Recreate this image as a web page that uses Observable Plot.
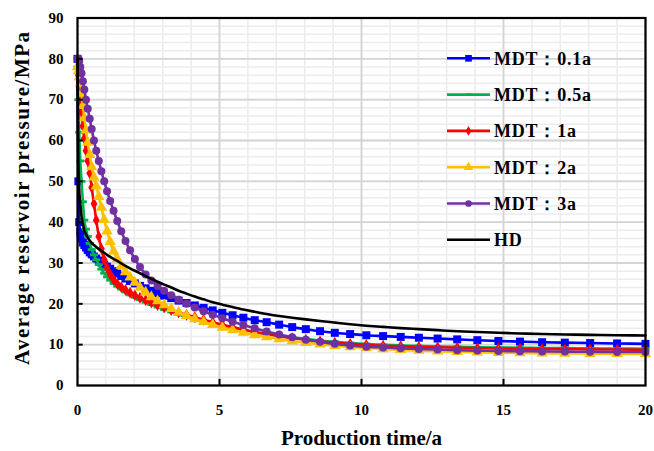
<!DOCTYPE html>
<html><head><meta charset="utf-8">
<script src="https://cdn.jsdelivr.net/npm/d3@7"></script>
<script src="https://cdn.jsdelivr.net/npm/@observablehq/plot@0.6"></script>
<style>
body{margin:0;background:#fff;}
#chart{width:654px;height:451px;}
</style></head><body><div id="chart"></div>
<script>
// Production time (a), shared by all series
const time = [0,0.03,0.06,0.1,0.14,0.19,0.24,0.3,0.36,0.43,0.5,0.58,0.66,0.75,0.84,0.94,1.04,1.15,1.27,1.4,1.54,1.69,1.85,2.02,2.2,2.4,2.6,2.82,3.05,3.3,3.56,3.84,4.13,4.44,4.76,5.1,5.46,5.84,6.24,6.66,7.1,7.56,8.04,8.54,9.06,9.6,10.17,10.76,11.38,12.02,12.68,13.37,14.08,14.82,15.58,16.36,17.16,18.05,19.0,20.0];
// Average reservoir pressure (MPa)
const mdt01 = [80,50,40,37.5,36,35,34.4,33.8,33.2,32.6,32.1,31.6,31.1,30.6,30.1,29.6,29.1,28.6,28.0,27.4,26.8,26.2,25.6,25.0,24.4,23.8,23.2,22.6,22.0,21.4,20.8,20.2,19.6,19.0,18.4,17.8,17.2,16.6,16.0,15.5,14.9,14.3,13.8,13.3,12.9,12.6,12.3,12.1,11.9,11.7,11.5,11.3,11.1,10.9,10.75,10.6,10.5,10.4,10.3,10.2];
const mdt05 = [78,70,62,55,50,45,40.5,38.3,36.5,34.8,33.3,32.0,30.8,29.6,28.5,27.5,26.6,25.8,25.0,24.3,23.6,22.9,22.2,21.6,21.0,20.4,19.8,19.2,18.6,18.0,17.4,16.8,16.2,15.6,15.1,14.6,14.1,13.6,13.1,12.6,12.2,11.8,11.4,11.0,10.7,10.4,10.15,9.95,9.8,9.65,9.55,9.45,9.35,9.3,9.25,9.2,9.15,9.1,9.05,9.0];
const mdt1 = [78,76,73,70,67,63.5,60.5,57.5,55,52,48.5,44.5,40.5,36.5,33.5,30.8,28.8,27.2,25.9,24.9,24.1,23.4,22.7,22.1,21.5,20.9,20.3,19.7,19.1,18.5,17.9,17.3,16.7,16.1,15.5,14.9,14.3,13.7,13.1,12.6,12.1,11.6,11.2,10.8,10.5,10.2,9.95,9.75,9.6,9.45,9.35,9.25,9.15,9.05,9.0,8.95,8.9,8.85,8.8,8.75];
const mdt2 = [78,77,75.5,74,71.5,68.5,65.5,62.5,59.5,56.5,53.5,51,48.8,46.2,43.6,40.6,37.8,35.2,32.9,31.0,29.3,27.8,26.5,25.2,24.0,22.8,21.7,20.7,19.7,18.8,17.9,17.1,16.3,15.6,14.9,14.2,13.6,13.0,12.4,11.9,11.4,10.9,10.5,10.1,9.75,9.45,9.2,8.95,8.75,8.55,8.4,8.25,8.15,8.05,7.95,7.9,7.85,7.8,7.75,7.7];
const mdt3 = [80,80,79.5,78,76.5,74.5,72.5,70,67.8,65.3,62.8,60,57.5,55,52.5,50,47.6,45.2,42.8,40.3,37.8,35.4,33.1,31.0,29.0,27.2,25.7,24.4,23.2,22.1,21.0,20.0,19.1,18.2,17.3,16.5,15.6,14.8,14.0,13.2,12.5,11.8,11.2,10.7,10.2,9.8,9.5,9.3,9.1,8.95,8.8,8.65,8.55,8.45,8.4,8.35,8.3,8.25,8.2,8.2];
const hd = [80,55,48,44.5,41.5,39.5,38.0,37.0,36.2,35.5,34.9,34.4,33.9,33.4,33.0,32.5,32.0,31.5,31.0,30.5,29.9,29.3,28.7,28.1,27.5,26.8,26.1,25.4,24.7,24.0,23.2,22.5,21.8,21.1,20.4,19.8,19.2,18.6,18.05,17.5,17.0,16.6,16.2,15.8,15.4,15.0,14.65,14.35,14.05,13.8,13.55,13.3,13.1,12.9,12.75,12.6,12.5,12.4,12.3,12.25];

const seriesNames = ["MDT：0.1a","MDT：0.5a","MDT：1a","MDT：2a","MDT：3a","HD"];
const xTicks = [0,5,10,15,20];
const yTicks = [0,10,20,30,40,50,60,70,80,90];
const xMinor = d3.range(0,21,1);
const yMinor = d3.range(0,91,2);

const dash = {draw(ctx, size){ const w = Math.sqrt(size)*0.9, h = w*0.35; ctx.moveTo(-w,-h); ctx.lineTo(w,-h); ctx.lineTo(w,h); ctx.lineTo(-w,h); ctx.closePath(); }};

const series = [
  {name: seriesNames[0], values: mdt01, color: "#0000ff", symbol: "square", r: 4.5},
  {name: seriesNames[1], values: mdt05, color: "#00b050", symbol: dash, r: 2.5},
  {name: seriesNames[2], values: mdt1, color: "#ff0000", symbol: "diamond", r: 3.6},
  {name: seriesNames[3], values: mdt2, color: "#ffc000", symbol: "triangle", r: 4.2},
  {name: seriesNames[4], values: mdt3, color: "#7030a0", symbol: "circle", r: 4.0},
  {name: seriesNames[5], values: hd, color: "#000000", symbol: null, r: 0}
];
series.forEach(s => s.rows = time.map((t,i) => ({t, p: s.values[i]})));

const marks = [
  Plot.gridX(xMinor, {stroke: "#ececec", strokeOpacity: 1, strokeWidth: 1.5}),
  Plot.gridY(yMinor, {stroke: "#ececec", strokeOpacity: 1, strokeWidth: 1.5}),
  Plot.gridX(xTicks, {stroke: "#d4d4d4", strokeOpacity: 1, strokeWidth: 1.8}),
  Plot.gridY(yTicks, {stroke: "#d4d4d4", strokeOpacity: 1, strokeWidth: 1.8})
];
series.forEach(s => {
  marks.push(Plot.line(s.rows, {x: "t", y: "p", stroke: s.color, strokeWidth: 2.6, curve: "monotone-x"}));
  if (s.symbol) marks.push(Plot.dot(s.rows, {x: "t", y: "p", fill: s.color, stroke: "none", symbol: s.symbol, r: s.r}));
});
marks.push(
  Plot.frame({stroke: "#000", strokeWidth: 2.2}),
  Plot.ruleX(xTicks.slice(1,-1), {y1: 0, y2: 1.5, stroke: "#000", strokeWidth: 2}),
  Plot.ruleY(yTicks.slice(1,-1), {x1: 0, x2: 0.2, stroke: "#000", strokeWidth: 2}),
  Plot.axisX({ticks: xTicks, tickSize: 0, tickPadding: 19, label: null}),
  Plot.axisY({ticks: yTicks, tickSize: 0, tickPadding: 14, label: null}),
  Plot.text(["Production time/a"], {frameAnchor: "bottom", dy: 53, textAnchor: "middle", lineAnchor: "middle", fontSize: 21, fontWeight: "bold", fill: "#000"}),
  Plot.text(["Average reservoir pressure/MPa"], {frameAnchor: "left", dx: -55, dy: -4, rotate: -90, textAnchor: "middle", lineAnchor: "middle", fontSize: 21, fontWeight: "bold", fill: "#000"})
);

const svg = Plot.plot({
  width: 654, height: 451,
  marginLeft: 77, marginRight: 9, marginTop: 17.5, marginBottom: 66,
  x: {domain: [0, 20]},
  y: {domain: [0, 90]},
  style: {fontFamily: "'Liberation Serif','Times New Roman',serif", fontWeight: "bold", fontSize: "15px", color: "#000", background: "#fff"},
  marks
});

// widen the y title like the reference
d3.select(svg).selectAll("text").each(function(){
  if (this.textContent === "Average reservoir pressure/MPa") this.style.letterSpacing = "1.5px";
});

// legend
const lg = d3.select(svg).append("g").attr("font-family", "'Liberation Serif','Times New Roman',serif").attr("font-weight", "bold").attr("font-size", 18).attr("text-anchor", "start").style("letter-spacing", "0.8px");
series.forEach((s, i) => {
  const y = 58.3 + i * 36.3;
  lg.append("line").attr("x1", 447).attr("x2", 490).attr("y1", y).attr("y2", y).attr("stroke", s.color).attr("stroke-width", 2.6);
  if (s.symbol) {
    const sym = typeof s.symbol === "string" ? ({square: d3.symbolSquare, diamond: d3.symbolDiamond, triangle: d3.symbolTriangle, circle: d3.symbolCircle})[s.symbol] : s.symbol;
    lg.append("path").attr("d", d3.symbol(sym, Math.PI * s.r * s.r * 0.7)()).attr("transform", `translate(468.5,${y})`).attr("fill", s.color);
  }
  lg.append("text").attr("x", 494).attr("y", y + 6.5).attr("fill", "#000").attr("text-anchor", "start").text(s.name);
});

document.getElementById("chart").appendChild(svg);
</script>
</body></html>
